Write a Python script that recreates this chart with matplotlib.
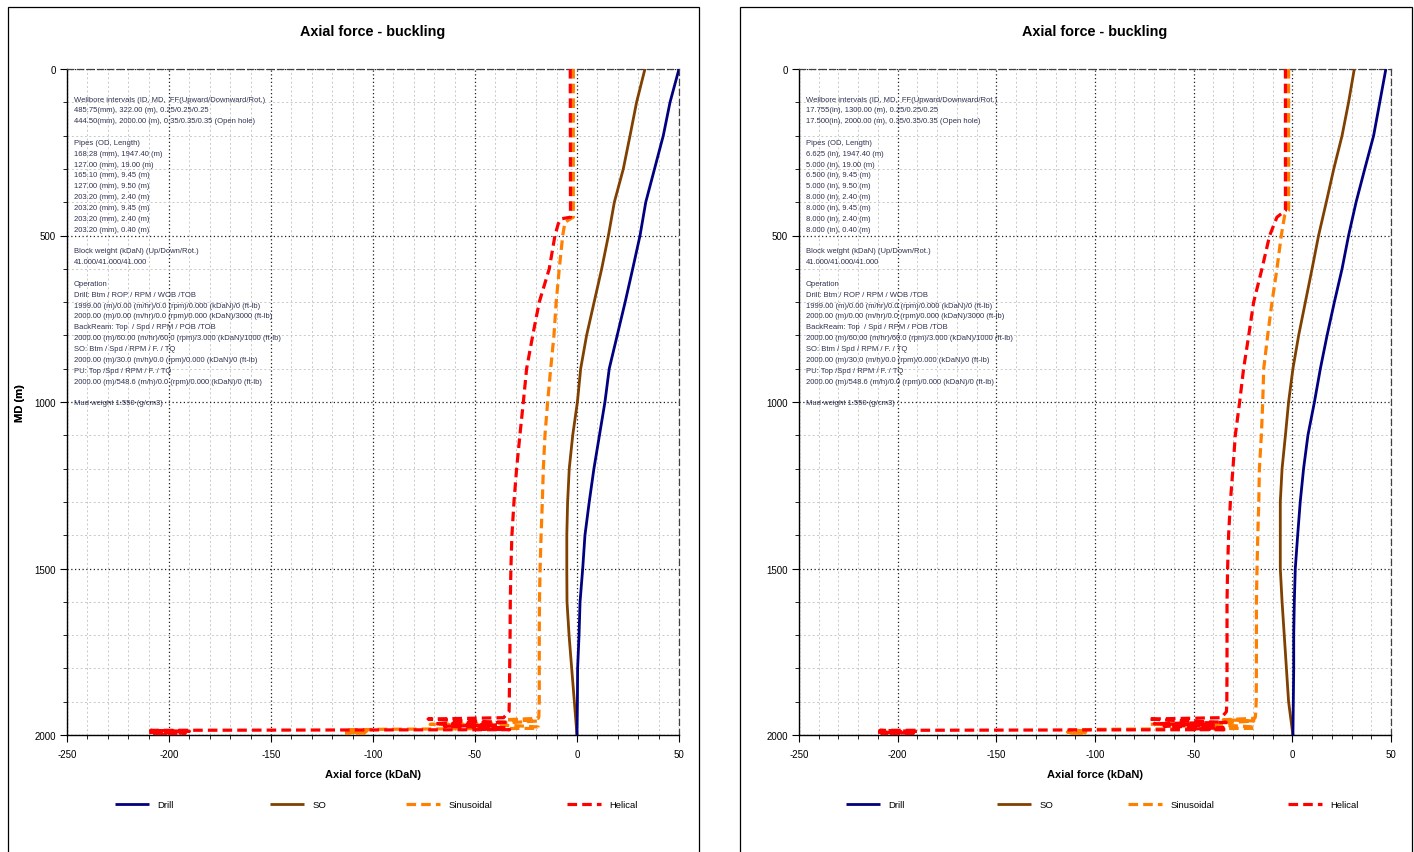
import matplotlib
matplotlib.use("Agg")
import matplotlib.pyplot as plt
from matplotlib.patches import Rectangle
from matplotlib.ticker import MultipleLocator
from matplotlib.legend import Legend

plt.rcParams['font.family'] = ['Liberation Sans', 'DejaVu Sans']
plt.rcParams['axes.unicode_minus'] = False

# ---------------- data ----------------
md_main = [0, 100, 200, 300, 400, 500, 600, 700, 800, 900, 1000,
           1100, 1200, 1300, 1400, 1500, 1600, 1700, 1800, 1900, 2000]

# left panel (metric)
drill_left = [50.0, 45.6, 42.3, 38.0, 33.7, 30.9, 27.3, 23.6, 19.7, 15.8, 13.7,
              11.0, 8.3, 6.0, 3.9, 2.8, 1.5, 1.0, 0.3, 0.2, 0.0]
so_left = [33.3, 29.2, 26.0, 22.7, 18.3, 15.4, 12.1, 8.4, 4.7, 1.8, 0.2,
           -2.1, -3.8, -4.6, -5.0, -5.0, -4.9, -3.9, -2.6, -1.3, 0.0]

sin_md_left = [0, 445, 460, 500, 600, 700, 800, 900, 1000, 1100, 1200, 1300, 1400,
               1500, 1600, 1700, 1800, 1900, 1945, 1950, 1954, 1958, 1964, 1968,
               1972, 1976, 1980, 1983, 1985, 1988, 1991, 1994, 1997, 2000]
sin_left = [-1.8, -1.8, -5.9, -7.0, -8.7, -10.2, -11.3, -12.9, -14.4, -15.7, -16.5,
            -17.0, -17.6, -18.1, -18.4, -18.5, -18.5, -18.5, -18.7, -19.0, -35.0,
            -19.5, -36.0, -72.0, -30.0, -19.0, -19.0, -98.0, -113.0, -103.0, -114.0,
            -104.0, -113.0, -108.0]

hel_md_left = [0, 445, 450, 465, 500, 600, 700, 800, 900, 1000, 1100, 1200, 1300,
               1400, 1500, 1600, 1700, 1800, 1900, 1930, 1948, 1952, 1958, 1962,
               1966, 1970, 1974, 1978, 1982, 1984, 1986, 1989, 1992, 1995, 1998, 2000]
hel_left = [-3.3, -3.2, -7.8, -9.2, -10.8, -13.6, -18.5, -21.7, -24.7, -26.3, -28.0,
            -29.6, -30.9, -31.9, -32.4, -32.7, -32.8, -33.0, -33.2, -33.3, -36.0,
            -73.0, -55.0, -33.5, -70.0, -40.0, -65.0, -35.0, -50.0, -33.0, -209.0,
            -190.0, -210.0, -192.0, -208.0, -200.0]

# right panel (imperial pipe sizes)
drill_right = [47.4, 44.3, 41.2, 36.7, 32.3, 28.5, 25.2, 21.3, 17.6, 14.2, 11.2,
               7.9, 5.7, 4.0, 2.7, 1.5, 1.0, 0.7, 0.7, 0.5, 0.3]
so_right = [31.4, 28.5, 25.2, 21.0, 17.2, 13.3, 10.0, 6.6, 3.2, 0.3, -1.9,
            -3.5, -5.2, -6.1, -6.1, -6.1, -5.2, -4.1, -3.0, -1.9, 0.3]

sin_md_right = [0, 425, 440, 500, 600, 700, 800, 900, 1000, 1100, 1200, 1300, 1400,
                1500, 1600, 1700, 1800, 1900, 1945, 1950, 1954, 1958, 1964, 1968,
                1972, 1976, 1980, 1983, 1985, 1988, 1991, 1994, 1997, 2000]
sin_right = [-1.9, -1.9, -3.9, -5.6, -7.8, -10.3, -12.5, -14.5, -15.0, -15.7, -16.7,
             -17.0, -17.5, -17.9, -18.2, -18.2, -18.2, -18.3, -18.7, -19.0, -35.0,
             -19.5, -36.0, -72.0, -30.0, -19.0, -19.0, -98.0, -113.0, -103.0, -114.0,
             -104.0, -113.0, -108.0]

hel_md_right = [0, 425, 445, 500, 600, 700, 800, 900, 1000, 1100, 1200, 1300,
                1400, 1500, 1600, 1700, 1800, 1900, 1930, 1948, 1952, 1958, 1962,
                1966, 1970, 1974, 1978, 1982, 1984, 1986, 1989, 1992, 1995, 1998, 2000]
hel_right = [-3.5, -3.5, -7.8, -11.5, -15.4, -19.6, -22.1, -24.7, -26.7, -28.9, -30.1,
             -31.4, -32.3, -32.8, -33.1, -33.1, -33.1, -33.2, -33.4, -36.0,
             -73.0, -55.0, -33.5, -70.0, -40.0, -65.0, -35.0, -50.0, -33.0, -209.0,
             -190.0, -210.0, -192.0, -208.0, -200.0]

x_ticks = [-250, -200, -150, -100, -50, 0, 50]
y_ticks = [0, 500, 1000, 1500, 2000]

series_names = ['Drill', 'SO', 'Sinusoidal', 'Helical']
series_colors = ['#000080', '#804000', '#FF8000', '#FF0000']

info_left = [
    "Wellbore intervals (ID, MD,  FF(Upward/Downward/Rot.)",
    "485.75(mm), 322.00 (m), 0.25/0.25/0.25",
    "444.50(mm), 2000.00 (m), 0.35/0.35/0.35 (Open hole)",
    "",
    "Pipes (OD, Length)",
    "168.28 (mm), 1947.40 (m)",
    "127.00 (mm), 19.00 (m)",
    "165.10 (mm), 9.45 (m)",
    "127.00 (mm), 9.50 (m)",
    "203.20 (mm), 2.40 (m)",
    "203.20 (mm), 9.45 (m)",
    "203.20 (mm), 2.40 (m)",
    "203.20 (mm), 0.40 (m)",
]
info_right = [
    "Wellbore intervals (ID, MD,  FF(Upward/Downward/Rot.)",
    "17.755(in), 1300.00 (m), 0.25/0.25/0.25",
    "17.500(in), 2000.00 (m), 0.35/0.35/0.35 (Open hole)",
    "",
    "Pipes (OD, Length)",
    "6.625 (in), 1947.40 (m)",
    "5.000 (in), 19.00 (m)",
    "6.500 (in), 9.45 (m)",
    "5.000 (in), 9.50 (m)",
    "8.000 (in), 2.40 (m)",
    "8.000 (in), 9.45 (m)",
    "8.000 (in), 2.40 (m)",
    "8.000 (in), 0.40 (m)",
]
info_common = [
    "",
    "Block weight (kDaN) (Up/Down/Rot.)",
    "41.000/41.000/41.000",
    "",
    "Operation",
    "Drill: Btm / ROP / RPM / WOB /TOB",
    "1999.00 (m)/0.00 (m/hr)/0.0 (rpm)/0.000 (kDaN)/0 (ft-lb)",
    "2000.00 (m)/0.00 (m/hr)/0.0 (rpm)/0.000 (kDaN)/3000 (ft-lb)",
    "BackReam: Top  / Spd / RPM / POB /TOB",
    "2000.00 (m)/60.00 (m/hr)/60.0 (rpm)/3.000 (kDaN)/1000 (ft-lb)",
    "SO: Btm / Spd / RPM / F. / TQ",
    "2000.00 (m)/30.0 (m/h)/0.0 (rpm)/0.000 (kDaN)/0 (ft-lb)",
    "PU: Top /Spd / RPM / F. / TQ",
    "2000.00 (m)/548.6 (m/h)/0.0 (rpm)/0.000 (kDaN)/0 (ft-lb)",
    "",
    "Mud weight 1.550 (g/cm3)",
]

# ---------------- figure ----------------
W, H = 1414, 853
fig = plt.figure(figsize=(W / 100, H / 100), dpi=100)
fig.patch.set_facecolor('white')

# panel frames
for (fx0, fx1) in [(8, 699), (740, 1412)]:
    fig.add_artist(Rectangle((fx0 / W, -0.05), (fx1 - fx0) / W, 1 - 8 / H + 0.05,
                             transform=fig.transFigure, fill=False,
                             edgecolor='black', linewidth=0.9))


def draw_panel(ax_px, drill, so, sin_md, sin_v, hel_md, hel_v, info, legend_px):
    x0, y0, x1, y1 = ax_px
    ax = fig.add_axes([x0 / W, 1 - y1 / H, (x1 - x0) / W, (y1 - y0) / H])
    ax.set_xlim(-250, 50)
    ax.set_ylim(2000, 0)
    ax.set_xticks(x_ticks)
    ax.set_yticks(y_ticks)
    ax.xaxis.set_minor_locator(MultipleLocator(10))
    ax.yaxis.set_minor_locator(MultipleLocator(100))
    ax.grid(which='minor', color='#c8c8c8', linestyle=(0, (2, 2.5)), linewidth=0.7)
    ax.grid(which='major', color='#202020', linestyle=(0, (1, 2)), linewidth=0.9)
    ax.set_axisbelow(True)

    for s in ['top', 'right']:
        ax.spines[s].set_linestyle((0, (5, 3)))
        ax.spines[s].set_color('#404040')
        ax.spines[s].set_linewidth(0.9)
    for s in ['left', 'bottom']:
        ax.spines[s].set_color('black')
        ax.spines[s].set_linewidth(1.0)

    ax.tick_params(which='major', direction='out', length=5, width=0.8,
                   labelsize=7, pad=3, top=False, right=False)
    ax.tick_params(which='minor', direction='out', length=3, width=0.6,
                   top=False, right=False)
    ax.tick_params(axis='x', which='major', pad=5)

    lw_solid = 2.0
    lw_dash = 2.3
    dash = (0, (3.0, 1.6))
    h_drill, = ax.plot(drill, md_main, color=series_colors[0], lw=lw_solid,
                       solid_capstyle='butt', zorder=5)
    h_so, = ax.plot(so, md_main, color=series_colors[1], lw=lw_solid,
                    solid_capstyle='butt', zorder=4)
    h_sin, = ax.plot(sin_v, sin_md, color=series_colors[2], lw=lw_dash,
                     linestyle=dash, zorder=3)
    h_hel, = ax.plot(hel_v, hel_md, color=series_colors[3], lw=lw_dash,
                     linestyle=dash, zorder=3)

    ax.set_xlabel('Axial force (kDaN)', fontsize=8, fontweight='bold')
    ax.xaxis.set_label_coords(0.5, -(775 - y1) / (y1 - y0))
    ax.xaxis.label.set_va('center')
    ax.set_ylabel('MD (m)', fontsize=8, fontweight='bold')
    ax.yaxis.set_label_coords(-(x0 - 20) / (x1 - x0), 0.5)
    ax.yaxis.label.set_va('center')

    fig.text((x0 + x1) / 2 / W, 1 - 32 / H, 'Axial force - buckling',
             fontsize=10.4, fontweight='bold', ha='center', va='center')

    lines = info + info_common
    for i, t in enumerate(lines):
        if t:
            fig.text((x0 + 7) / W, 1 - (100 + i * 10.85) / H, t, fontsize=5.5,
                     color='#2e3350', ha='left', va='center')

    handles = [h_drill, h_so, h_sin, h_hel]
    for h, name, lx in zip(handles, series_names, legend_px):
        leg = Legend(ax, [h], [name], loc='center left',
                     bbox_to_anchor=(lx / W, 1 - 806 / H),
                     bbox_transform=fig.transFigure, frameon=False,
                     fontsize=6.8, handlelength=3.6, handletextpad=0.9,
                     borderpad=0, borderaxespad=0)
        ax.add_artist(leg)
    return ax


draw_panel((67, 70, 679, 736), drill_left, so_left, sin_md_left, sin_left,
           hel_md_left, hel_left, info_left, [115, 270, 406, 567])
draw_panel((799, 70, 1391, 736), drill_right, so_right, sin_md_right, sin_right,
           hel_md_right, hel_right, info_right, [846, 997, 1128, 1288])

fig.savefig('out.png', dpi=100, facecolor='white')
